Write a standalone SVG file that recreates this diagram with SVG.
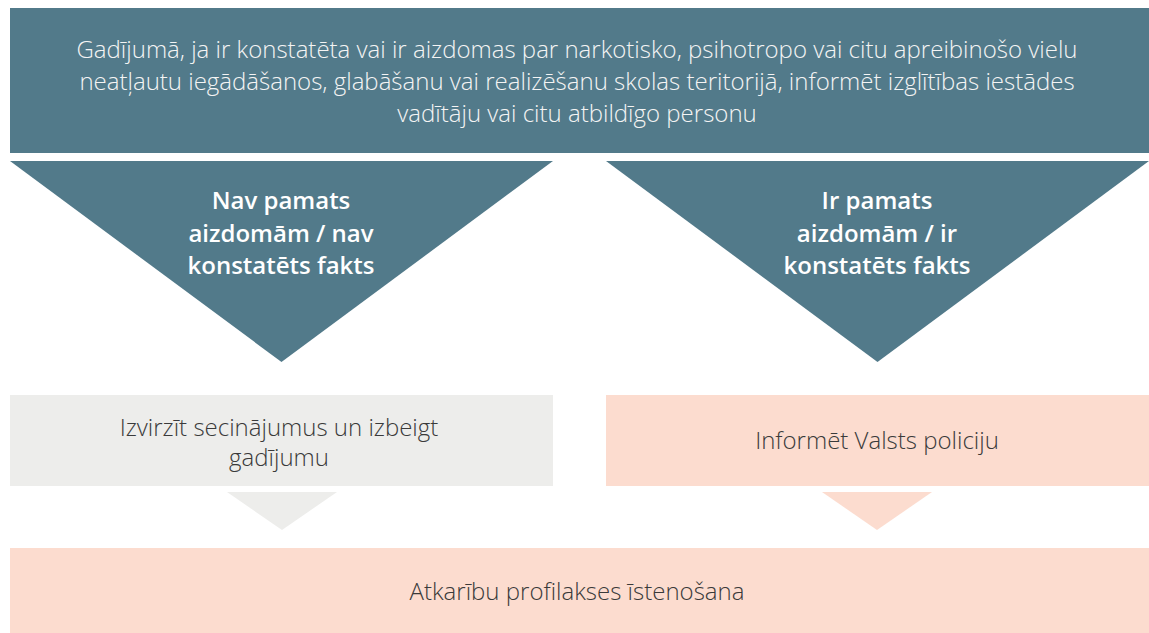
<svg xmlns="http://www.w3.org/2000/svg" width="1149" height="633" viewBox="0 0 1149 633">
<style>
.teal{fill:#527a8a}
.gray{fill:#ededeb}
.pink{fill:#fcdccf}
text{font-family:"Open Sans","Noto Sans","Liberation Sans",sans-serif;font-size:24px;text-anchor:middle}
.lt{font-weight:300;fill:#f4f4f4}
.dk{font-weight:300;fill:#3a3a3a}
.bd{font-weight:600;fill:#ffffff}
</style>
<rect width="1149" height="633" fill="#ffffff"/>
<g id="top">
<rect class="teal" x="10" y="8" width="1139" height="145"/>
<text class="lt" x="577" y="57.5">Gadījumā, ja ir konstatēta vai ir aizdomas par narkotisko, psihotropo vai citu apreibinošo vielu</text>
<text class="lt" x="577" y="90">neatļautu iegādāšanos, glabāšanu vai realizēšanu skolas teritorijā, informēt izglītības iestādes</text>
<text class="lt" x="577" y="122">vadītāju vai citu atbildīgo personu</text>
</g>
<g id="no-basis">
<polygon class="teal" points="10,161 553,161 281.5,362"/>
<text class="bd" x="281" y="209">Nav pamats</text>
<text class="bd" x="281" y="242">aizdomām / nav</text>
<text class="bd" x="281" y="274">konstatēts fakts</text>
</g>
<g id="basis">
<polygon class="teal" points="606,161 1149,161 877.5,362"/>
<text class="bd" x="877" y="209">Ir pamats</text>
<text class="bd" x="877" y="242">aizdomām / ir</text>
<text class="bd" x="877" y="274">konstatēts fakts</text>
</g>
<g id="conclude">
<rect class="gray" x="10" y="395" width="543" height="91"/>
<text class="dk" x="279" y="436">Izvirzīt secinājumus un izbeigt</text>
<text class="dk" x="279" y="466">gadījumu</text>
</g>
<g id="police">
<rect class="pink" x="606" y="395" width="543" height="91"/>
<text class="dk" x="877" y="449">Informēt Valsts policiju</text>
</g>
<g id="connectors">
<polygon class="gray" points="227,492 337,492 282,530"/>
<polygon class="pink" points="822,492 932,492 877,530"/>
</g>
<g id="prevention">
<rect class="pink" x="10" y="548" width="1139" height="85"/>
<text class="dk" x="577" y="600">Atkarību profilakses īstenošana</text>
</g>
</svg>
